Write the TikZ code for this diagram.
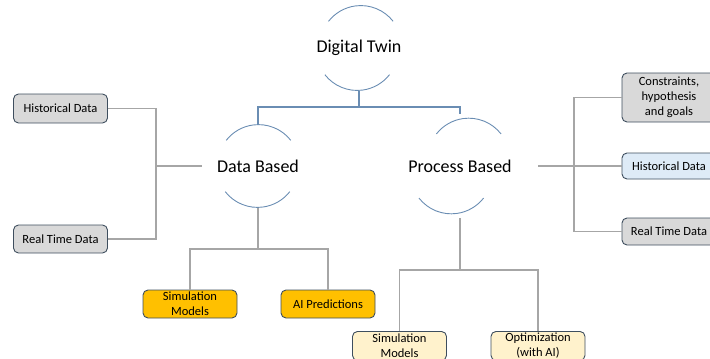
\documentclass[tikz,border=0pt]{standalone}
\usepackage{fontspec}
\setmainfont{Carlito}
\definecolor{arcblue}{HTML}{6A8DB3}
\definecolor{linegray}{HTML}{A6A6A6}
\definecolor{boxedge}{HTML}{3E4E5E}
\definecolor{boxgray}{HTML}{D9D9D9}
\definecolor{boxorange}{HTML}{FFC000}
\definecolor{boxcream}{HTML}{FFF2CC}
\definecolor{boxblue}{HTML}{DEEBF7}
\tikzset{
  hub/.style={circle, minimum size=82pt, inner sep=0pt, font=\fontsize{18}{21}\selectfont},
  arcline/.style={draw=arcblue, line width=0.9pt},
  blueline/.style={draw=arcblue, line width=1.1pt},
  grayline/.style={draw=linegray, line width=1.6pt},
  leaf/.style={draw=boxedge, line width=0.9pt, rounded corners=5pt, minimum width=94pt, align=center, inner sep=1pt, font=\fontsize{12.5}{15}\selectfont},
}
\begin{document}
\begin{tikzpicture}[x=1pt,y=-1pt]
\useasboundingbox (0,0) rectangle (710,359);
% hubs
\node[hub] (dt) at (359,48) {Digital Twin};
\node[hub] (db) at (258,166) {Data Based};
\node[hub] (pb) at (460,166) {Process Based};
\foreach \n in {dt,db,pb}{
  \draw[arcline] (\n.38) arc[start angle=38, end angle=142, radius=41pt];
  \draw[arcline] (\n.218) arc[start angle=218, end angle=322, radius=41pt];
}
% leaves left
\node[leaf, fill=boxgray, minimum height=29pt] (hdl) at (60.5,108.5) {Historical Data};
\node[leaf, fill=boxgray, minimum height=28pt] (rtl) at (60.5,239) {Real Time Data};
% leaves right
\node[leaf, fill=boxgray, minimum height=49pt] (cons) at (669,97.5) {Constraints,\\hypothesis\\and goals};
\node[leaf, fill=boxblue, minimum height=26pt] (hdr) at (669,166) {Historical Data};
\node[leaf, fill=boxgray, minimum height=27pt] (rtr) at (669,231.5) {Real Time Data};
% leaves bottom
\node[leaf, fill=boxorange, minimum height=28pt] (sm1) at (190,304) {Simulation\\Models};
\node[leaf, fill=boxorange, minimum height=28pt] (aip) at (328,304) {AI Predictions};
\node[leaf, fill=boxcream, minimum height=29pt, anchor=north] (sm2) at (399.5,331) {Simulation\\Models};
\node[leaf, fill=boxcream, minimum height=29pt, anchor=north] (opt) at (538,331) {Optimization\\(with AI)};
% top connectors
\coordinate (j1) at (359,107);
\draw[blueline] (dt.south) -- (j1);
\draw[blueline] (db.north) |- (j1) -| (pb.north);
% left connectors
\coordinate (lj) at (156,166);
\draw[grayline] (hdl.east) -| (lj);
\draw[grayline] (rtl.east) -| (lj);
\draw[grayline, shorten >=14pt] (lj) -- (db.west);
% right connectors
\coordinate (rj) at (574,166);
\draw[grayline] (cons.west) -| (rj);
\draw[grayline] (rtr.west) -| (rj);
\draw[grayline] (hdr.west) -- (rj);
\draw[grayline, shorten >=26pt] (rj) -- (pb.east);
% bottom connectors
\coordinate (bj1) at (258,249);
\draw[grayline] (db.south) -- (bj1);
\draw[grayline] (sm1.north) |- (bj1) -| (aip.north);
\coordinate (bj2) at (460,270);
\draw[grayline] (pb.south) -- (bj2);
\draw[grayline] (sm2.north) |- (bj2) -| (opt.north);
\end{tikzpicture}
\end{document}
